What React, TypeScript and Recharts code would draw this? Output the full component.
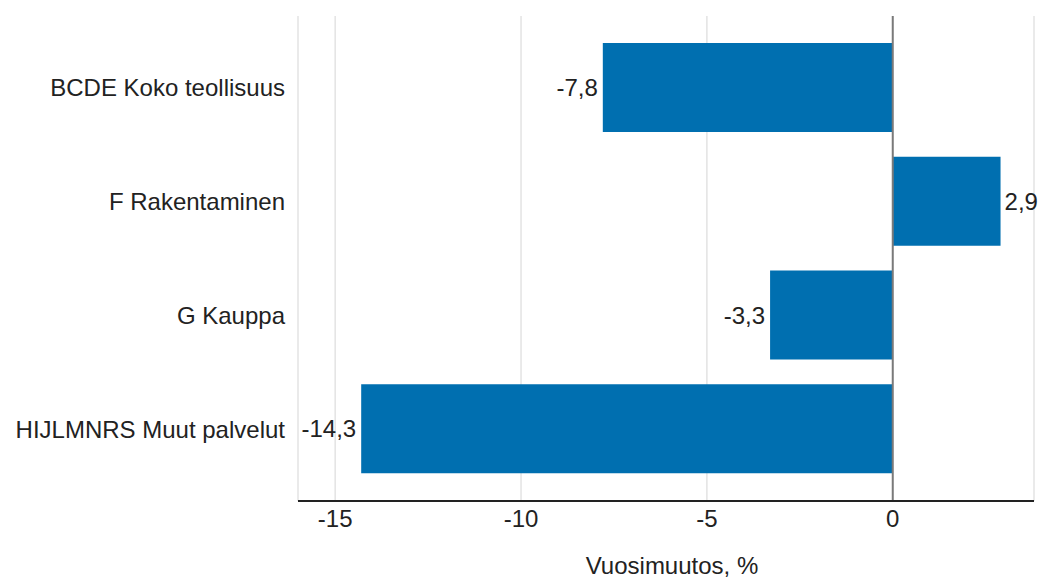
import { BarChart, Bar, XAxis, YAxis, CartesianGrid, ReferenceLine, LabelList } from "recharts";

const categories = ["BCDE Koko teollisuus", "F Rakentaminen", "G Kauppa", "HIJLMNRS Muut palvelut"];
const changes = [-7.8, 2.9, -3.3, -14.3];
const xTicks = [-15, -10, -5, 0];

const data = categories.map((name, i) => ({ name, value: changes[i] }));

const fmt = (v: number) => String(v).replace(".", ",");

const ValueLabel = (props: any) => {
  const { x, y, width, height, value } = props;
  const neg = value < 0;
  const edge = neg ? Math.min(x, x + width) : Math.max(x, x + width);
  return (
    <text
      x={neg ? edge - 5 : edge + 4}
      y={y + height / 2}
      textAnchor={neg ? "end" : "start"}
      dominantBaseline="central"
      fontSize={24}
      fill="#222"
    >
      {fmt(value)}
    </text>
  );
};

export default function App() {
  return (
    <div style={{ position: "absolute", left: 0, top: 0, fontFamily: "'Liberation Sans', Arial, sans-serif" }}>
      <BarChart
        width={1043}
        height={578}
        data={data}
        layout="vertical"
        margin={{ top: 16, right: 9, bottom: 47, left: 0 }}
      >
        <CartesianGrid horizontal={false} stroke="#e3e3e3" strokeWidth={1.5} />
        <XAxis
          type="number"
          domain={[-16, 3.8]}
          ticks={xTicks}
          tickLine={false}
          axisLine={{ stroke: "#222", strokeWidth: 2 }}
          tick={{ fontSize: 24, fill: "#222" }}
          tickMargin={3}
          label={{ value: "Vuosimuutos, %", position: "bottom", offset: 26, dx: 6, fontSize: 24, fill: "#222" }}
        />
        <YAxis
          type="category"
          dataKey="name"
          width={298}
          tickLine={false}
          axisLine={false}
          tick={{ fontSize: 24, fill: "#222" }}
          tickMargin={7}
          padding={{ top: 15, bottom: 15 }}
        />
        <Bar dataKey="value" fill="#006fb0" barSize={89} isAnimationActive={false}>
          <LabelList dataKey="value" content={ValueLabel} />
        </Bar>
        <ReferenceLine x={0} stroke="#7a7a7a" strokeWidth={2} />
      </BarChart>
    </div>
  );
}
